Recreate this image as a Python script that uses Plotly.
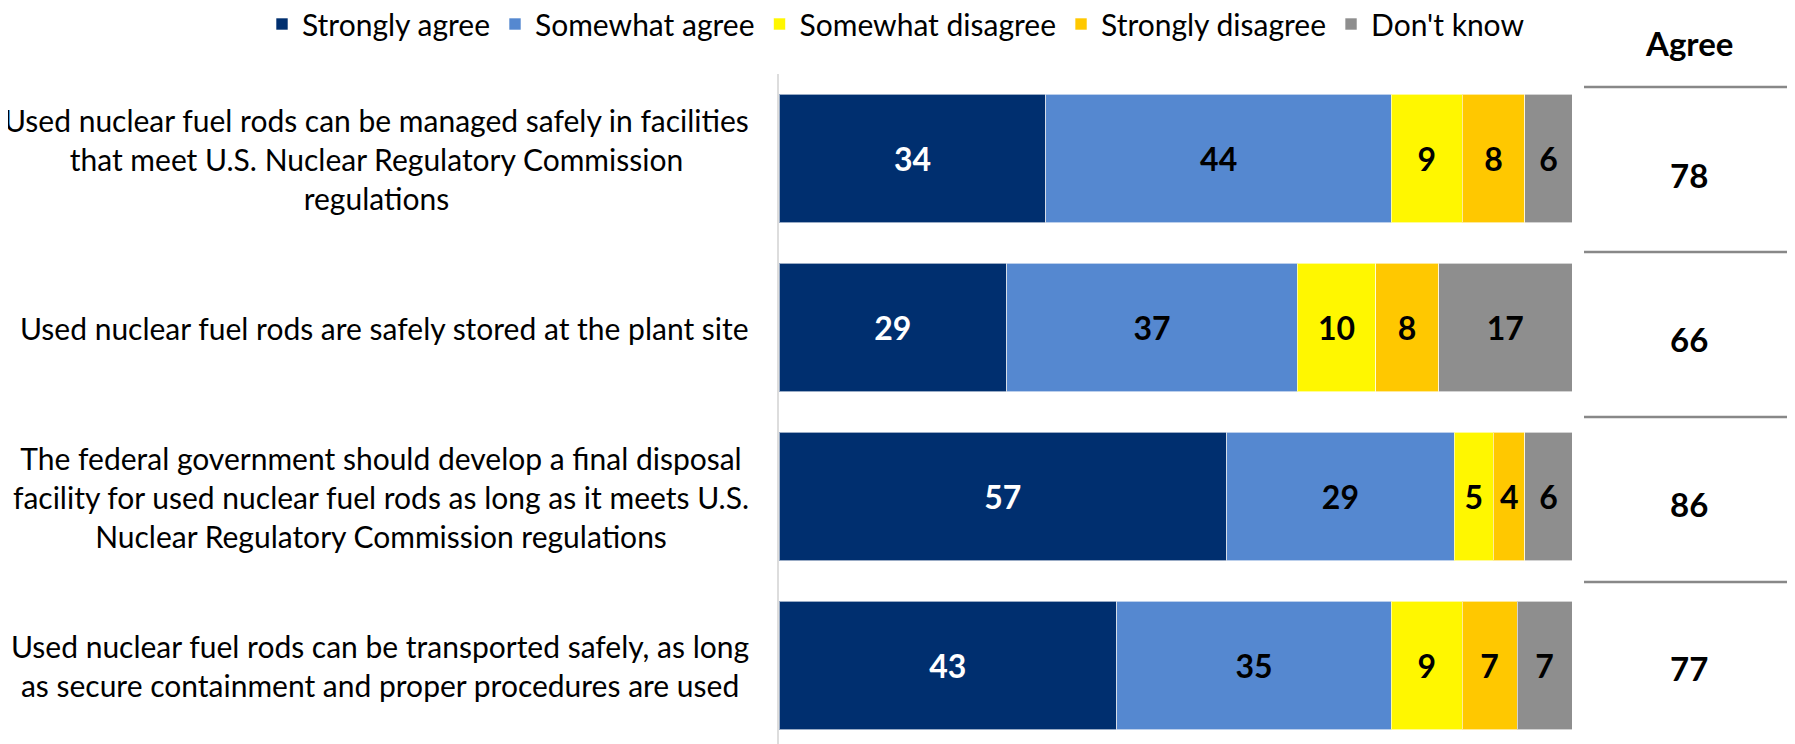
import plotly.graph_objects as go

categories = [
    "Used nuclear fuel rods can be managed safely in facilities<br>that meet U.S. Nuclear Regulatory Commission<br>regulations",
    "Used nuclear fuel rods are safely stored at the plant site",
    "The federal government should develop a final disposal<br>facility for used nuclear fuel rods as long as it meets U.S.<br>Nuclear Regulatory Commission regulations",
    "Used nuclear fuel rods can be transported safely, as long<br>as secure containment and proper procedures are used",
]
series_names = ["Strongly agree", "Somewhat agree", "Somewhat disagree", "Strongly disagree", "Don't know"]
strongly_agree = [34, 29, 57, 43]
somewhat_agree = [44, 37, 29, 35]
somewhat_disagree = [9, 10, 5, 9]
strongly_disagree = [8, 8, 4, 7]
dont_know = [6, 17, 6, 7]
agree_totals = [78, 66, 86, 77]

series_values = [strongly_agree, somewhat_agree, somewhat_disagree, strongly_disagree, dont_know]
colors = ["#002F6F", "#5588D0", "#FFF700", "#FFC800", "#8E8E8E"]
text_colors = ["white", "black", "black", "black", "black"]

FONT = "Lato"
OFF = 8  # page body margin
W, H = 1795 - OFF, 744 - OFF
L = 779 - OFF
R = W - (1572 - OFF)
T = 74 - OFF
B = 0
slot = 169.0
plot_h = H - T - B
y_bottom = -0.5 + plot_h / slot

ypos = list(range(len(categories)))

fig = go.Figure()
for name, vals, col, tc in zip(series_names, series_values, colors, text_colors):
    fig.add_trace(go.Bar(
        name=name, x=vals, y=ypos, orientation="h",
        marker=dict(color=col, line=dict(color="rgba(255,255,255,0.6)", width=1)),
        width=0.763,
        text=[str(v) for v in vals], textposition="inside", insidetextanchor="middle",
        textangle=0, constraintext="none",
        textfont=dict(family=FONT, size=32, color=tc, weight="bold"),
        hoverinfo="skip",
    ))

px2x = lambda px: (px - OFF - L) / (W - L - R)
px2y = lambda py: (H - B - (py - OFF)) / plot_h

annotations = []
for i, c in enumerate(categories):
    annotations.append(dict(
        x=px2x(751), y=i, xref="paper", yref="y", text=c, showarrow=False,
        xanchor="right", yanchor="middle", align="center",
        font=dict(family=FONT, size=30, color="black"),
    ))

annotations.append(dict(
    x=px2x(1689), y=px2y(43), xref="paper", yref="paper", text="<b>Agree</b>",
    showarrow=False, xanchor="center", yanchor="middle",
    font=dict(family=FONT, size=33, color="black"),
))
shapes = []
for i, v in enumerate(agree_totals):
    line_y = 87 + i * 165
    num_y = 175 + i * 164.3
    annotations.append(dict(
        x=px2x(1689), y=px2y(num_y), xref="paper", yref="paper", text=f"<b>{v}</b>",
        showarrow=False, xanchor="center", yanchor="middle",
        font=dict(family=FONT, size=33, color="black"),
    ))
    shapes.append(dict(
        type="line", xref="paper", yref="paper",
        x0=px2x(1584), x1=px2x(1794), y0=px2y(line_y), y1=px2y(line_y),
        line=dict(color="#888888", width=2.5),
    ))

fig.update_layout(
    width=W, height=H,
    barmode="stack",
    margin=dict(l=L, r=R, t=T, b=B, pad=0, autoexpand=False),
    paper_bgcolor="white", plot_bgcolor="white",
    font=dict(family=FONT, size=30, color="black"),
    xaxis=dict(range=[0, 101], visible=False, fixedrange=True),
    yaxis=dict(range=[y_bottom, -0.5], showticklabels=False, showgrid=False,
               zeroline=False, showline=True, linecolor="#DDDDDD", linewidth=2,
               ticks="", fixedrange=True),
    legend=dict(orientation="h", x=px2x(262), y=px2y(24), xanchor="left", yanchor="middle",
                font=dict(family=FONT, size=30, color="black"), traceorder="normal",
                itemwidth=30, bgcolor="rgba(0,0,0,0)", maxheight=300),
    uniformtext=dict(minsize=20, mode="show"),
    annotations=annotations,
    shapes=shapes,
)

fig.write_html("out.html")
